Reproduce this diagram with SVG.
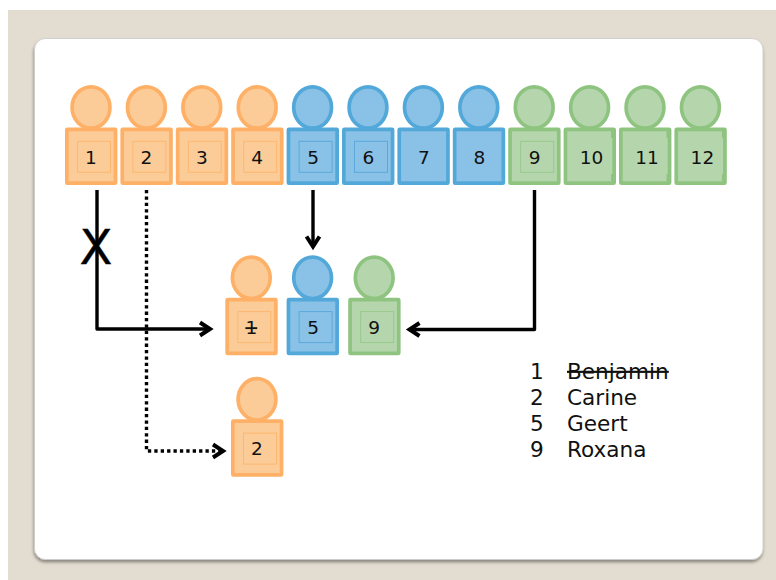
<svg xmlns="http://www.w3.org/2000/svg" width="776" height="580" viewBox="0 0 776 580">
<style>
text{font-family:"DejaVu Sans",Verdana,sans-serif;fill:#111}
.n{font-size:18.500px;text-anchor:middle}
.l{font-size:21.600px}
.o{--f:#fbcb98;--e:#fdb066;--j:#fdb870}
.b{--f:#8ac1e6;--e:#53a8da;--j:#5ba9dc}
.g{--f:#b5d6ad;--e:#8fc480;--j:#98c98b}
.s{fill:var(--f);stroke:var(--e);stroke-width:3.700;stroke-linejoin:round}
.i{fill:none;stroke:var(--j);stroke-width:1}
.c{fill:none;stroke:#000;stroke-width:3.400;stroke-linejoin:round}
.d{stroke-dasharray:3.300 3.100}
.h{fill:none;stroke:#000;stroke-width:4}
.t{fill:var(--e)}
</style>
<defs>
<filter id="sh" x="-5%" y="-5%" width="110%" height="110%"><feDropShadow dx="-0.500" dy="2.500" stdDeviation="1.800" flood-color="#000" flood-opacity="0.380"/></filter>
<g id="person">
<ellipse class="s" cx="26" cy="-20" rx="18.900" ry="20.700"/>
<rect class="s" x="1.850" y="1.850" width="48.700" height="53.800" rx="0.500"/>
</g>
<rect id="inner" class="i" x="12.500" y="13.800" width="33" height="31"/>
<path id="notch" class="t" d="M47.500 3H50V10.500H47.500ZM47.500 46.500H50V54H47.500Z"/>
</defs>
<rect width="776" height="580" fill="#fff"/>
<rect x="8" y="10" width="768" height="570" fill="#e3ddd1"/>
<rect x="34.500" y="38.500" width="728.500" height="521" rx="11" fill="#fff" stroke="#c9c9c6" stroke-width="0.800" filter="url(#sh)"/>
<g id="p1" class="o" transform="translate(65 127.500)"><use href="#person"/><use href="#inner"/><text class="n" x="26" y="36">1</text></g>
<g id="p2" class="o" transform="translate(120.400 127.500)"><use href="#person"/><use href="#inner"/><text class="n" x="26" y="36">2</text></g>
<g id="p3" class="o" transform="translate(175.800 127.500)"><use href="#person"/><use href="#inner"/><text class="n" x="26" y="36">3</text></g>
<g id="p4" class="o" transform="translate(231.200 127.500)"><use href="#person"/><use href="#inner"/><text class="n" x="26" y="36">4</text></g>
<g id="p5" class="b" transform="translate(286.600 127.500)"><use href="#person"/><use href="#inner"/><text class="n" x="26.500" y="36">5</text></g>
<g id="p6" class="b" transform="translate(342 127.500)"><use href="#person"/><use href="#inner"/><text class="n" x="26.500" y="36">6</text></g>
<g id="p7" class="b" transform="translate(397.400 127.500)"><use href="#person"/><text class="n" x="26.500" y="36">7</text></g>
<g id="p8" class="b" transform="translate(452.800 127.500)"><use href="#person"/><text class="n" x="26.500" y="36">8</text></g>
<g id="p9" class="g" transform="translate(508.200 127.500)"><use href="#person"/><use href="#inner"/><text class="n" x="26.500" y="36">9</text></g>
<g id="p10" class="g" transform="translate(563.600 127.500)"><use href="#person"/><use href="#notch"/><text class="n" x="28" y="36">10</text></g>
<g id="p11" class="g" transform="translate(619 127.500)"><use href="#person"/><use href="#notch"/><text class="n" x="28" y="36">11</text></g>
<g id="p12" class="g" transform="translate(674.400 127.500)"><use href="#person"/><use href="#notch"/><text class="n" x="28" y="36">12</text></g>
<g id="m1" class="o" transform="translate(225.300 297.800)"><use href="#person"/><use href="#inner"/><text class="n" x="26" y="36" text-decoration="line-through">1</text></g>
<g id="m5" class="b" transform="translate(286.600 297.800)"><use href="#person"/><use href="#inner"/><text class="n" x="26.500" y="36">5</text></g>
<g id="m9" class="g" transform="translate(348.200 297.800)"><use href="#person"/><use href="#inner"/><text class="n" x="26" y="36">9</text></g>
<g id="r2" class="o" transform="translate(231 419.300)"><use href="#person"/><use href="#inner"/><text class="n" x="26" y="36">2</text></g>
<g id="connectors">
<path class="c" d="M97 190V329H208"/>
<path class="h" d="M200 322.500L210 329L200 335.500"/>
<path class="c d" d="M146.500 190V451H220"/>
<path class="h" d="M213 444.500L223 451L213 457.500"/>
<path class="c" d="M313 190V244"/>
<path class="h" d="M306.500 236.500L313 246.500L319.500 236.500"/>
<path class="c" d="M534.500 190V329.500H412"/>
<path class="h" d="M419.500 323L409.500 329.500L419.500 336"/>
</g>
<text id="x-mark" x="96" y="264" font-size="48" text-anchor="middle" style="fill:#000;stroke:#000;stroke-width:0.400">X</text>
<g id="legend">
<text class="l" x="530" y="378.500">1</text><text class="l" x="567" y="378.500" text-decoration="line-through">Benjamin</text>
<text class="l" x="530" y="404.500">2</text><text class="l" x="567" y="404.500">Carine</text>
<text class="l" x="530" y="430.500">5</text><text class="l" x="567" y="430.500">Geert</text>
<text class="l" x="530" y="456.500">9</text><text class="l" x="567" y="456.500">Roxana</text>
</g>
</svg>
